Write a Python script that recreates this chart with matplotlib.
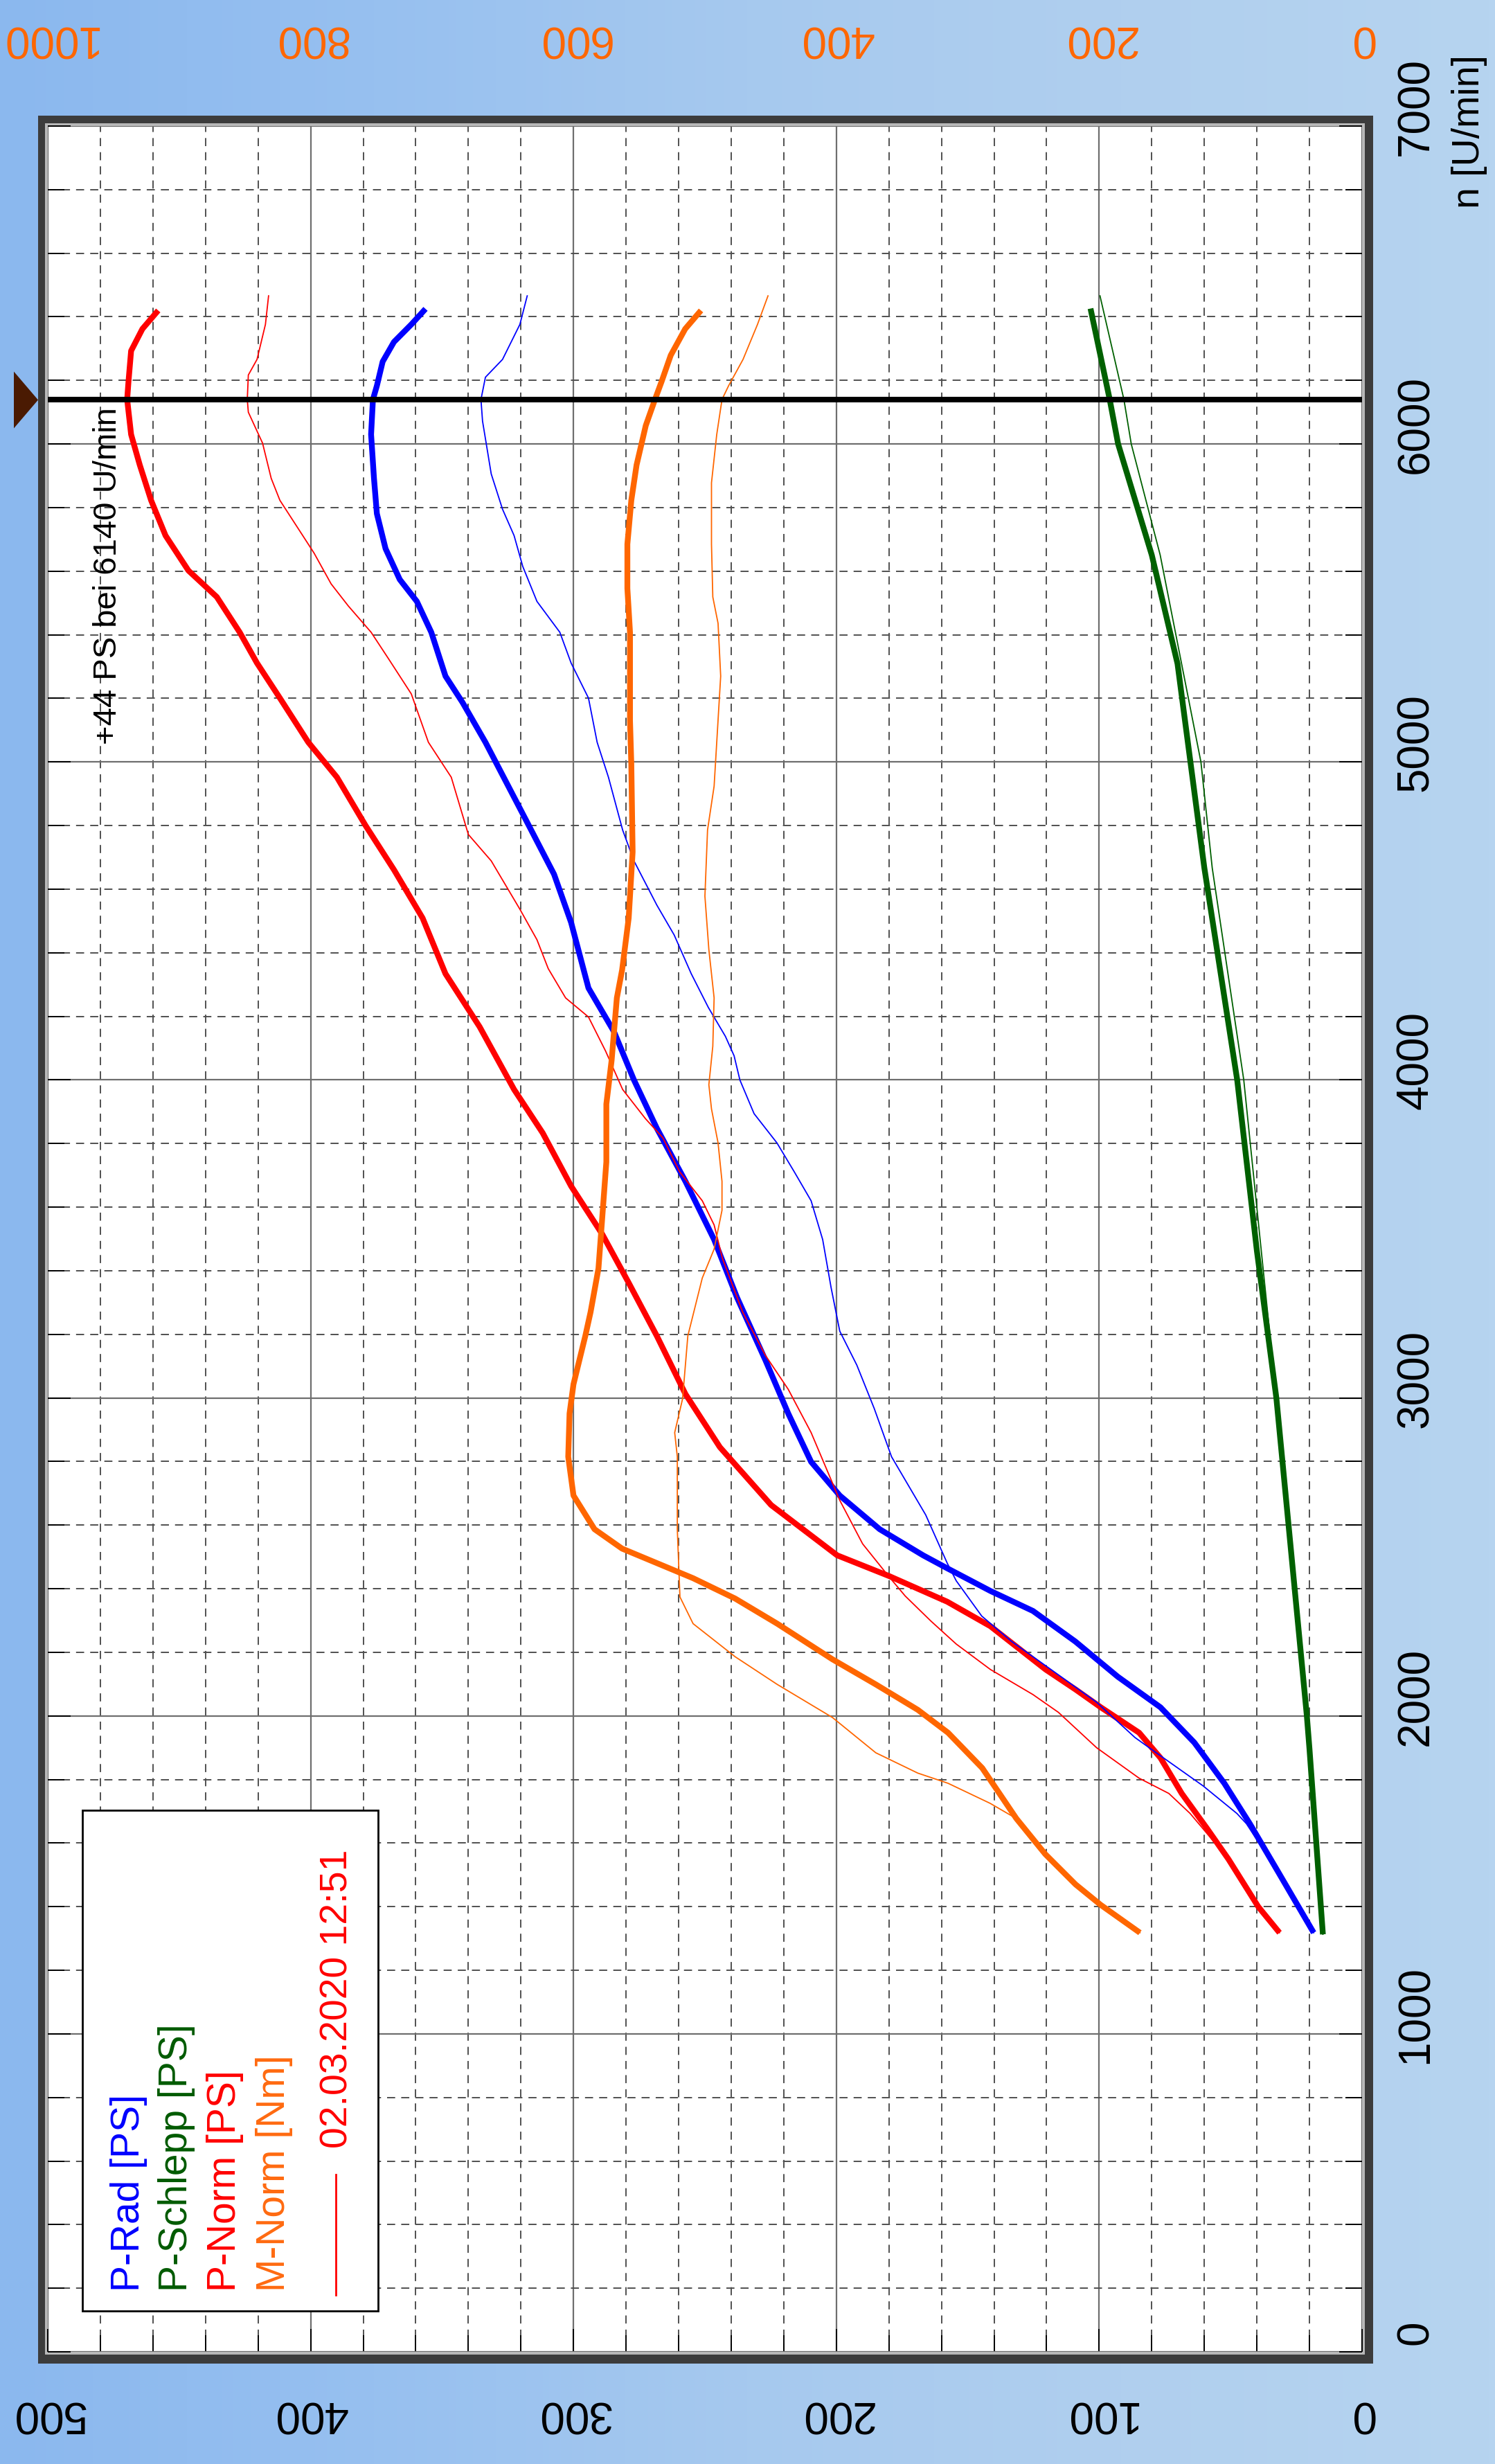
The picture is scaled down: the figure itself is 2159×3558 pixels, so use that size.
import numpy as np
import matplotlib
matplotlib.use("Agg")
import matplotlib.pyplot as plt
from matplotlib.transforms import blended_transform_factory, offset_copy
from matplotlib.patches import Rectangle
from matplotlib.colors import LinearSegmentedColormap

plt.rcParams['font.family'] = ['Liberation Sans', 'DejaVu Sans']

# ---------------- data ----------------
# thick = current run, thin = comparison run (02.03.2020 12:51)
rpm_p_rad = [1318, 1502, 1661, 1788, 1916, 2027, 2123, 2234, 2330, 2393, 2465, 2505, 2587, 2693,
             2799, 2951, 3119, 3316, 3498, 3681, 3848, 4000, 4152, 4289, 4495, 4647, 4786, 4924,
             5062, 5187, 5270, 5408, 5505, 5574, 5671, 5781, 5892, 6030, 6140, 6183, 6259, 6321,
             6376, 6425]
p_rad = [18.4, 31.4, 42.7, 52.4, 63.8, 76.7, 92.9, 109.1, 125.2, 141.4, 158.0, 167.0, 183.5, 198.7,
         209.6, 218.3, 227.0, 237.8, 246.5, 257.4, 268.3, 277.0, 284.6, 294.3, 300.9, 307.4, 316.1, 324.8,
         333.5, 342.2, 348.7, 354.1, 359.6, 366.1, 371.5, 374.8, 375.9, 377.0, 376.3, 374.8, 372.6, 368.3,
         361.7, 356.3]

rpm_p_rad_ref = [1318, 1502, 1661, 1693, 1780, 1884, 1932, 2043, 2139, 2234, 2314, 2425, 2480, 2632,
                 2815, 2967, 3103, 3210, 3347, 3498, 3620, 3711, 3802, 3894, 4000, 4076, 4137, 4228,
                 4334, 4456, 4550, 4689, 4786, 4952, 5062, 5201, 5311, 5408, 5505, 5615, 5712, 5795,
                 5906, 6072, 6140, 6210, 6266, 6376, 6466]
p_rad_ref = [18.4, 31.4, 44.0, 47.6, 60.5, 78.3, 86.4, 101.0, 117.2, 133.3, 144.7, 154.4, 157.8, 166.0,
             179.0, 185.6, 192.2, 198.7, 202.0, 205.2, 209.6, 216.0, 222.6, 231.3, 236.7, 238.9, 242.2, 248.7,
             255.2, 261.7, 268.3, 277.0, 281.3, 286.7, 291.0, 294.3, 300.9, 305.2, 313.9, 319.3, 322.6, 327.0,
             331.3, 334.6, 335.2, 333.5, 327.0, 320.4, 317.6]

rpm_p_schlepp = [1313, 1896, 2000, 3000, 3462, 4000, 4667, 5309, 5651, 6000, 6140, 6426]
p_schlepp = [14.9, 20.0, 21.0, 32.6, 40.0, 47.5, 60.0, 70.2, 80.0, 92.8, 96.0, 103.3]

rpm_p_schlepp_ref = [1313, 2000, 3000, 4000, 4667, 5000, 5651, 6000, 6140, 6466]
p_schlepp_ref = [14.9, 21.0, 32.6, 45.0, 57.0, 61.3, 76.8, 87.8, 90.6, 99.7]

rpm_p_norm = [1318, 1400, 1549, 1645, 1756, 1868, 1947, 2027, 2083, 2146, 2282, 2359, 2440, 2505,
              2663, 2845, 3012, 3195, 3362, 3514, 3666, 3833, 3970, 4167, 4334, 4509, 4661, 4800,
              4952, 5062, 5201, 5311, 5408, 5519, 5602, 5712, 5823, 5934, 6030, 6140, 6196, 6293,
              6362, 6420]
p_norm = [31.4, 39.5, 50.8, 58.9, 68.6, 76.7, 84.8, 99.4, 109.0, 120.4, 141.4, 157.8, 180.0, 199.7,
          224.8, 244.3, 257.4, 268.3, 279.0, 289.0, 300.9, 311.7, 322.6, 335.7, 348.7, 357.4, 368.3, 379.1,
          390.0, 400.9, 411.7, 420.4, 427.0, 435.7, 446.5, 455.2, 460.7, 465.0, 468.3, 469.8, 469.3, 468.3,
          464.0, 458.0]

rpm_p_norm_ref = [1318, 1400, 1549, 1645, 1693, 1756, 1804, 1900, 2011, 2067, 2146, 2226, 2298, 2377,
                  2441, 2541, 2678, 2891, 3027, 3134, 3271, 3438, 3544, 3620, 3711, 3818, 3878, 3970,
                  4091, 4198, 4258, 4350, 4441, 4537, 4689, 4772, 4952, 5062, 5214, 5325, 5408, 5491,
                  5560, 5657, 5712, 5823, 5892, 6003, 6100, 6140, 6217, 6266, 6376, 6466]
p_norm_ref = [31.4, 39.5, 50.8, 60.5, 65.4, 73.5, 84.8, 101.0, 115.5, 125.2, 141.4, 154.4, 164.0, 173.8,
              180.3, 190.0, 198.7, 209.6, 218.3, 227.0, 235.7, 243.3, 246.5, 251.0, 259.6, 266.0, 272.6, 281.3,
              287.8, 294.3, 303.0, 309.6, 313.9, 320.4, 331.3, 340.0, 346.5, 355.2, 361.7, 370.4, 377.0, 385.7,
              392.2, 398.7, 403.0, 411.7, 415.0, 418.3, 423.7, 424.1, 423.7, 420.4, 417.2, 416.0]

rpm_m_norm = [1318, 1406, 1470, 1565, 1677, 1836, 1947, 2019, 2099, 2178, 2290, 2369, 2433, 2526,
              2587, 2693, 2815, 2951, 3043, 3195, 3270, 3407, 3574, 3742, 3924, 4061, 4258, 4346,
              4509, 4717, 4993, 5131, 5408, 5546, 5685, 5823, 5934, 6058, 6140, 6196, 6279, 6362, 6420]
m_norm = [169, 199, 218, 241, 263, 289, 315, 338, 370, 403, 445, 477, 509, 563,
          584, 600, 604, 603, 600, 591, 587, 581, 578, 575, 575, 571, 567, 563,
          558, 555, 556, 557, 557, 559, 559, 556, 552, 545, 538, 533, 526, 515, 503]

rpm_m_norm_ref = [1318, 1406, 1470, 1565, 1677, 1725, 1788, 1820, 1884, 1995, 2099, 2186, 2290, 2374,
                  2587, 2815, 2891, 2997, 3195, 3377, 3468, 3590, 3681, 3802, 3909, 3985, 4106, 4258,
                  4410, 4578, 4786, 4924, 5062, 5270, 5436, 5519, 5685, 5878, 6030, 6140, 6183, 6266,
                  6376, 6466]
m_norm_ref = [169, 199, 218, 241, 263, 283, 315, 338, 370, 403, 445, 477, 509, 519,
              521, 521, 523, 517, 513, 502, 493, 487, 487, 490, 495, 497, 494, 493,
              497, 500, 498, 493, 491, 488, 490, 494, 495, 495, 491, 487, 482, 471,
              460, 452]

legend_labels = ["P-Rad [PS]", "P-Schlepp [PS]", "P-Norm [PS]", "M-Norm [Nm]"]
ref_label = "02.03.2020 12:51"
marker_rpm = 6140
gain_ps = 44

ps_ticks = [0, 100, 200, 300, 400, 500]
nm_ticks = [0, 200, 400, 600, 800, 1000]
rpm_ticks = [0, 1000, 2000, 3000, 4000, 5000, 6000, 7000]

# ---------------- styles ----------------
C_BLUE = "#0000FF"
C_GREEN = "#006000"
C_RED = "#FF0000"
C_ORANGE = "#FF6600"
THICK = 6.0
THIN = 1.3

W, H, DPI = 2159, 3558, 100
fig = plt.figure(figsize=(W / DPI, H / DPI), dpi=DPI)

# background gradient and bevel frame (pixel coordinates)
bg = fig.add_axes([0, 0, 1, 1], zorder=-10)
bg.set_xlim(0, W)
bg.set_ylim(H, 0)
bg.axis("off")
cmap = LinearSegmentedColormap.from_list("bg", ["#8BB8EE", "#97C0F0", "#A6C9EE", "#B0CFEE", "#B6D4F0"])
bg.imshow(np.linspace(0, 1, 512)[None, :], cmap=cmap, extent=[0, W, H, 0], aspect="auto")
bg.add_patch(Rectangle((55, 167), 1928, 3246, fc="#3c3c3c", ec="none"))
bg.add_patch(Rectangle((65, 178), 1906, 3222, fc="#b8b8b8", ec="none"))

# main axes: horizontal = power (inverted), vertical = engine speed
ax = fig.add_axes([69 / W, 1 - 3396 / H, 1898 / W, 3214 / H])
ax.set_facecolor("white")
ax.set_xlim(500, 0)
ax.set_ylim(0, 7000)
for s in ax.spines.values():
    s.set_visible(False)
ax.set_xticks(ps_ticks)
ax.set_xticks([v for v in range(0, 501, 20) if v % 100], minor=True)
ax.set_yticks(rpm_ticks)
ax.set_yticks([v for v in range(0, 7001, 200) if v % 1000], minor=True)
ax.tick_params(which="both", direction="in", top=True, bottom=True, left=True, right=True,
               labelbottom=False, labelleft=False, labeltop=False, labelright=False,
               color="black", width=1.4)
ax.tick_params(which="major", length=24)
ax.tick_params(which="minor", length=17)
ax.grid(which="major", color="#6e6e6e", lw=1.6, ls="-")
ax.grid(which="minor", color="#505050", lw=1.4, ls=(0, (6, 4.5)))
ax.set_axisbelow(True)

# torque axis (top)
ax2 = ax.twiny()
ax2.set_xlim(1000, 0)
for s in ax2.spines.values():
    s.set_visible(False)
ax2.tick_params(which="both", top=False, bottom=False, labeltop=False, labelbottom=False)

# curves
ax.plot(p_rad, rpm_p_rad, color=C_BLUE, lw=THICK, solid_capstyle="butt")
ax.plot(p_schlepp, rpm_p_schlepp, color=C_GREEN, lw=THICK, solid_capstyle="butt")
ax.plot(p_norm, rpm_p_norm, color=C_RED, lw=THICK, solid_capstyle="butt")
ax.plot(p_rad_ref, rpm_p_rad_ref, color=C_BLUE, lw=THIN)
ax.plot(p_schlepp_ref, rpm_p_schlepp_ref, color=C_GREEN, lw=THIN)
ax.plot(p_norm_ref, rpm_p_norm_ref, color=C_RED, lw=THIN)
ax2.plot(m_norm, rpm_m_norm, color=C_ORANGE, lw=THICK, solid_capstyle="butt")
ax2.plot(m_norm_ref, rpm_m_norm_ref, color=C_ORANGE, lw=THIN)

# cursor line + marker
ax2.axhline(marker_rpm, color="black", lw=5.8, zorder=10)
tri = [(-0.427, -1), (-0.427, 1), (0.427, 0)]
ax2.plot([-0.0166], [marker_rpm], transform=blended_transform_factory(ax2.transAxes, ax2.transData),
         marker=tri, ms=59, mew=0, color="#4A1A02", clip_on=False, zorder=11)
ax.text(477, marker_rpm - 24, f"+{gain_ps} PS bei {marker_rpm} U/min", rotation=90,
        ha="center", va="top", fontsize=34, color="black", zorder=12)

# axis labels
tr_rpm = offset_copy(blended_transform_factory(ax.transAxes, ax.transData), fig=fig, x=0, y=28, units="dots")
for r in rpm_ticks:
    ax.text(1.0411, r, str(r), transform=tr_rpm, rotation=90, ha="center", va="center",
            fontsize=46, color="black", clip_on=False)
tr_ps = blended_transform_factory(ax.transData, ax.transAxes)
for p in ps_ticks:
    ax.text(p, -0.0274, str(p), transform=tr_ps, rotation=180, ha="center", va="center",
            fontsize=46, color="black", clip_on=False)
tr_nm = blended_transform_factory(ax2.transData, ax2.transAxes)
for m in nm_ticks:
    ax2.text(m, 1.0398, str(m), transform=tr_nm, rotation=180, ha="center", va="center",
             fontsize=46, color=C_ORANGE, clip_on=False)

# overlay (pixel coordinates) for legend and axis title
ov = fig.add_axes([0, 0, 1, 1], zorder=20)
ov.set_xlim(0, W)
ov.set_ylim(H, 0)
ov.axis("off")
ov.text(2122, 190, "n [U/min]", rotation=90, ha="center", va="center", fontsize=40, color="black")

ov.add_patch(Rectangle((119, 2614), 427, 723, fc="white", ec="black", lw=2.0))
leg_colors = [C_BLUE, "#005A00", C_RED, "#FF6A10"]
leg_x = [186, 255, 325, 396]
for lab, col, x in zip(legend_labels, leg_colors, leg_x):
    ov.text(x, 3309, lab, rotation=90, ha="center", va="bottom", fontsize=41, color=col)
ov.plot([485, 485], [3140, 3314], color=C_RED, lw=2.0)
ov.text(488, 3102, ref_label, rotation=90, ha="center", va="bottom", fontsize=40, color=C_RED)

fig.savefig("out.png", dpi=DPI)
